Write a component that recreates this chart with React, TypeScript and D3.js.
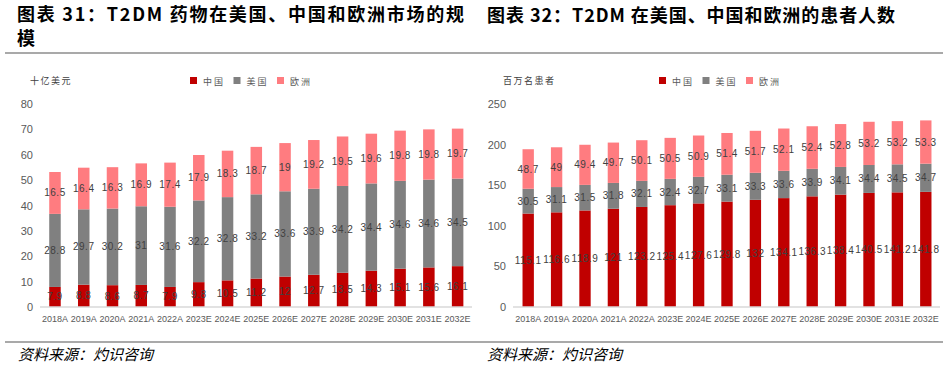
import * as d3 from "d3";

const years = ["2018A", "2019A", "2020A", "2021A", "2022A", "2023E", "2024E", "2025E", "2026E", "2027E", "2028E", "2029E", "2030E", "2031E", "2032E"];
const seriesNames = ["中国", "美国", "欧洲"];
const colors = ["#C00000", "#808080", "#FF7C80"];

// 市场规模（十亿美元）
const marketChina = [7.9, 8.8, 8.6, 8.7, 7.9, 9.8, 10.5, 11.2, 12, 12.7, 13.5, 14.3, 15.1, 15.6, 16.1];
const marketUS = [28.8, 29.7, 30.2, 31, 31.6, 32.2, 32.8, 33.2, 33.6, 33.9, 34.2, 34.4, 34.6, 34.6, 34.5];
const marketEU = [16.5, 16.4, 16.3, 16.9, 17.4, 17.9, 18.3, 18.7, 19, 19.2, 19.5, 19.6, 19.8, 19.8, 19.7];
const marketTicks = [0, 10, 20, 30, 40, 50, 60, 70, 80];

// 患者人数（百万）
const patientChina = [115.1, 116.6, 118.9, 121, 123.2, 125.4, 127.6, 129.8, 132, 134.1, 136.3, 138.4, 140.5, 141.2, 141.8];
const patientUS = [30.5, 31.1, 31.5, 31.8, 32.1, 32.4, 32.7, 33.1, 33.3, 33.6, 33.9, 34.1, 34.4, 34.5, 34.7];
const patientEU = [48.7, 49, 49.4, 49.7, 50.1, 50.5, 50.9, 51.4, 51.7, 52.1, 52.4, 52.8, 53.2, 53.2, 53.3];
const patientTicks = [0, 50, 100, 150, 200, 250];

const cjk = "'Noto Sans CJK SC', 'Noto Sans', sans-serif";
const latin = "'Liberation Sans', Arial, sans-serif";

type PanelProps = {
  series: number[][];
  ticks: number[];
  unit: string;
  x0: number;
  x1: number;
  axisLeft: number;
  legendX: number;
};

function Panel({ series, ticks, unit, x0, x1, axisLeft, legendX }: PanelProps) {
  const yBase = 307;
  const yTop = 104;
  const x = d3.scaleBand<string>().domain(years).range([x0, x1]).paddingInner(0.6).paddingOuter(0.3);
  const y = d3.scaleLinear().domain([0, ticks[ticks.length - 1]]).range([yBase, yTop]);

  const rows = years.map((yr, i) => {
    const o: Record<string, number | string> = { year: yr };
    seriesNames.forEach((n, k) => (o[n] = series[k][i]));
    return o;
  });
  const stacked = d3.stack<Record<string, number | string>>().keys(seriesNames)(rows as any);

  return (
    <g>
      <text x={axisLeft - 10} y={84} fontFamily={cjk} fontSize={9} fill="#404040" letterSpacing={1.5}>
        {unit}
      </text>
      {seriesNames.map((n, k) => (
        <g key={n} transform={`translate(${legendX + k * 43.5},0)`}>
          <rect x={0} y={77} width={7} height={7} fill={colors[k]} />
          <text x={13} y={84.5} fontFamily={cjk} fontSize={9} fill="#595959" letterSpacing={2}>
            {n}
          </text>
        </g>
      ))}
      {ticks.map((t) => (
        <text key={t} x={axisLeft - 7} y={y(t) + 4} textAnchor="end" fontFamily={latin} fontSize={11} fill="#595959">
          {t}
        </text>
      ))}
      {stacked.map((layer, k) => (
        <g key={layer.key}>
          {layer.map((d, i) => (
            <rect
              key={i}
              x={x(years[i])}
              y={y(d[1])}
              width={x.bandwidth()}
              height={y(d[0]) - y(d[1])}
              fill={colors[k]}
            />
          ))}
        </g>
      ))}
      {stacked.map((layer, k) => (
        <g key={"l" + layer.key}>
          {layer.map((d, i) => (
            <text
              key={i}
              x={(x(years[i]) ?? 0) + x.bandwidth() / 2}
              y={y((d[0] + d[1]) / 2) + 3.5}
              textAnchor="middle"
              fontFamily={latin}
              fontSize={10}
              fill="#404040"
              letterSpacing={0.5}
            >
              {series[k][i]}
            </text>
          ))}
        </g>
      ))}
      <line x1={axisLeft} x2={x1} y1={yBase} y2={yBase} stroke="#d9d9d9" strokeWidth={1.5} />
      {years.map((yr) => (
        <text
          key={yr}
          x={(x(yr) ?? 0) + x.bandwidth() / 2}
          y={322}
          textAnchor="middle"
          fontFamily={latin}
          fontSize={9}
          fill="#595959"
        >
          {yr}
        </text>
      ))}
    </g>
  );
}

export default function App() {
  return (
    <div style={{ position: "absolute", left: 0, top: 0, background: "#fff" }}>
      <svg width={949} height={366} style={{ display: "block" }}>
        <rect width={949} height={366} fill="#fff" />
        <text x={17} y={21} fontFamily={cjk} fontWeight="bold" fontSize={18} fill="#000" textLength={447} lengthAdjust="spacing">
          图表 31：T2DM 药物在美国、中国和欧洲市场的规
        </text>
        <text x={17} y={45} fontFamily={cjk} fontWeight="bold" fontSize={18} fill="#000">
          模
        </text>
        <text x={487} y={22} fontFamily={cjk} fontWeight="bold" fontSize={18} fill="#000" textLength={408} lengthAdjust="spacing">
          图表 32：T2DM 在美国、中国和欧洲的患者人数
        </text>
        <line x1={5} x2={943} y1={53} y2={53} stroke="#555" strokeWidth={1.2} />
        <line x1={5} x2={943} y1={342} y2={342} stroke="#555" strokeWidth={1.2} />
        <text x={18} y={360} fontFamily={cjk} fontStyle="italic" fontSize={15} fill="#000">
          资料来源：灼识咨询
        </text>
        <text x={487} y={360} fontFamily={cjk} fontStyle="italic" fontSize={15} fill="#000">
          资料来源：灼识咨询
        </text>
        <Panel
          series={[marketChina, marketUS, marketEU]}
          ticks={marketTicks}
          unit="十亿美元"
          x0={40.6}
          x1={472}
          axisLeft={40}
          legendX={190}
        />
        <Panel
          series={[patientChina, patientUS, patientEU]}
          ticks={patientTicks}
          unit="百万名患者"
          x0={514}
          x1={940}
          axisLeft={513}
          legendX={659}
        />
      </svg>
    </div>
  );
}
